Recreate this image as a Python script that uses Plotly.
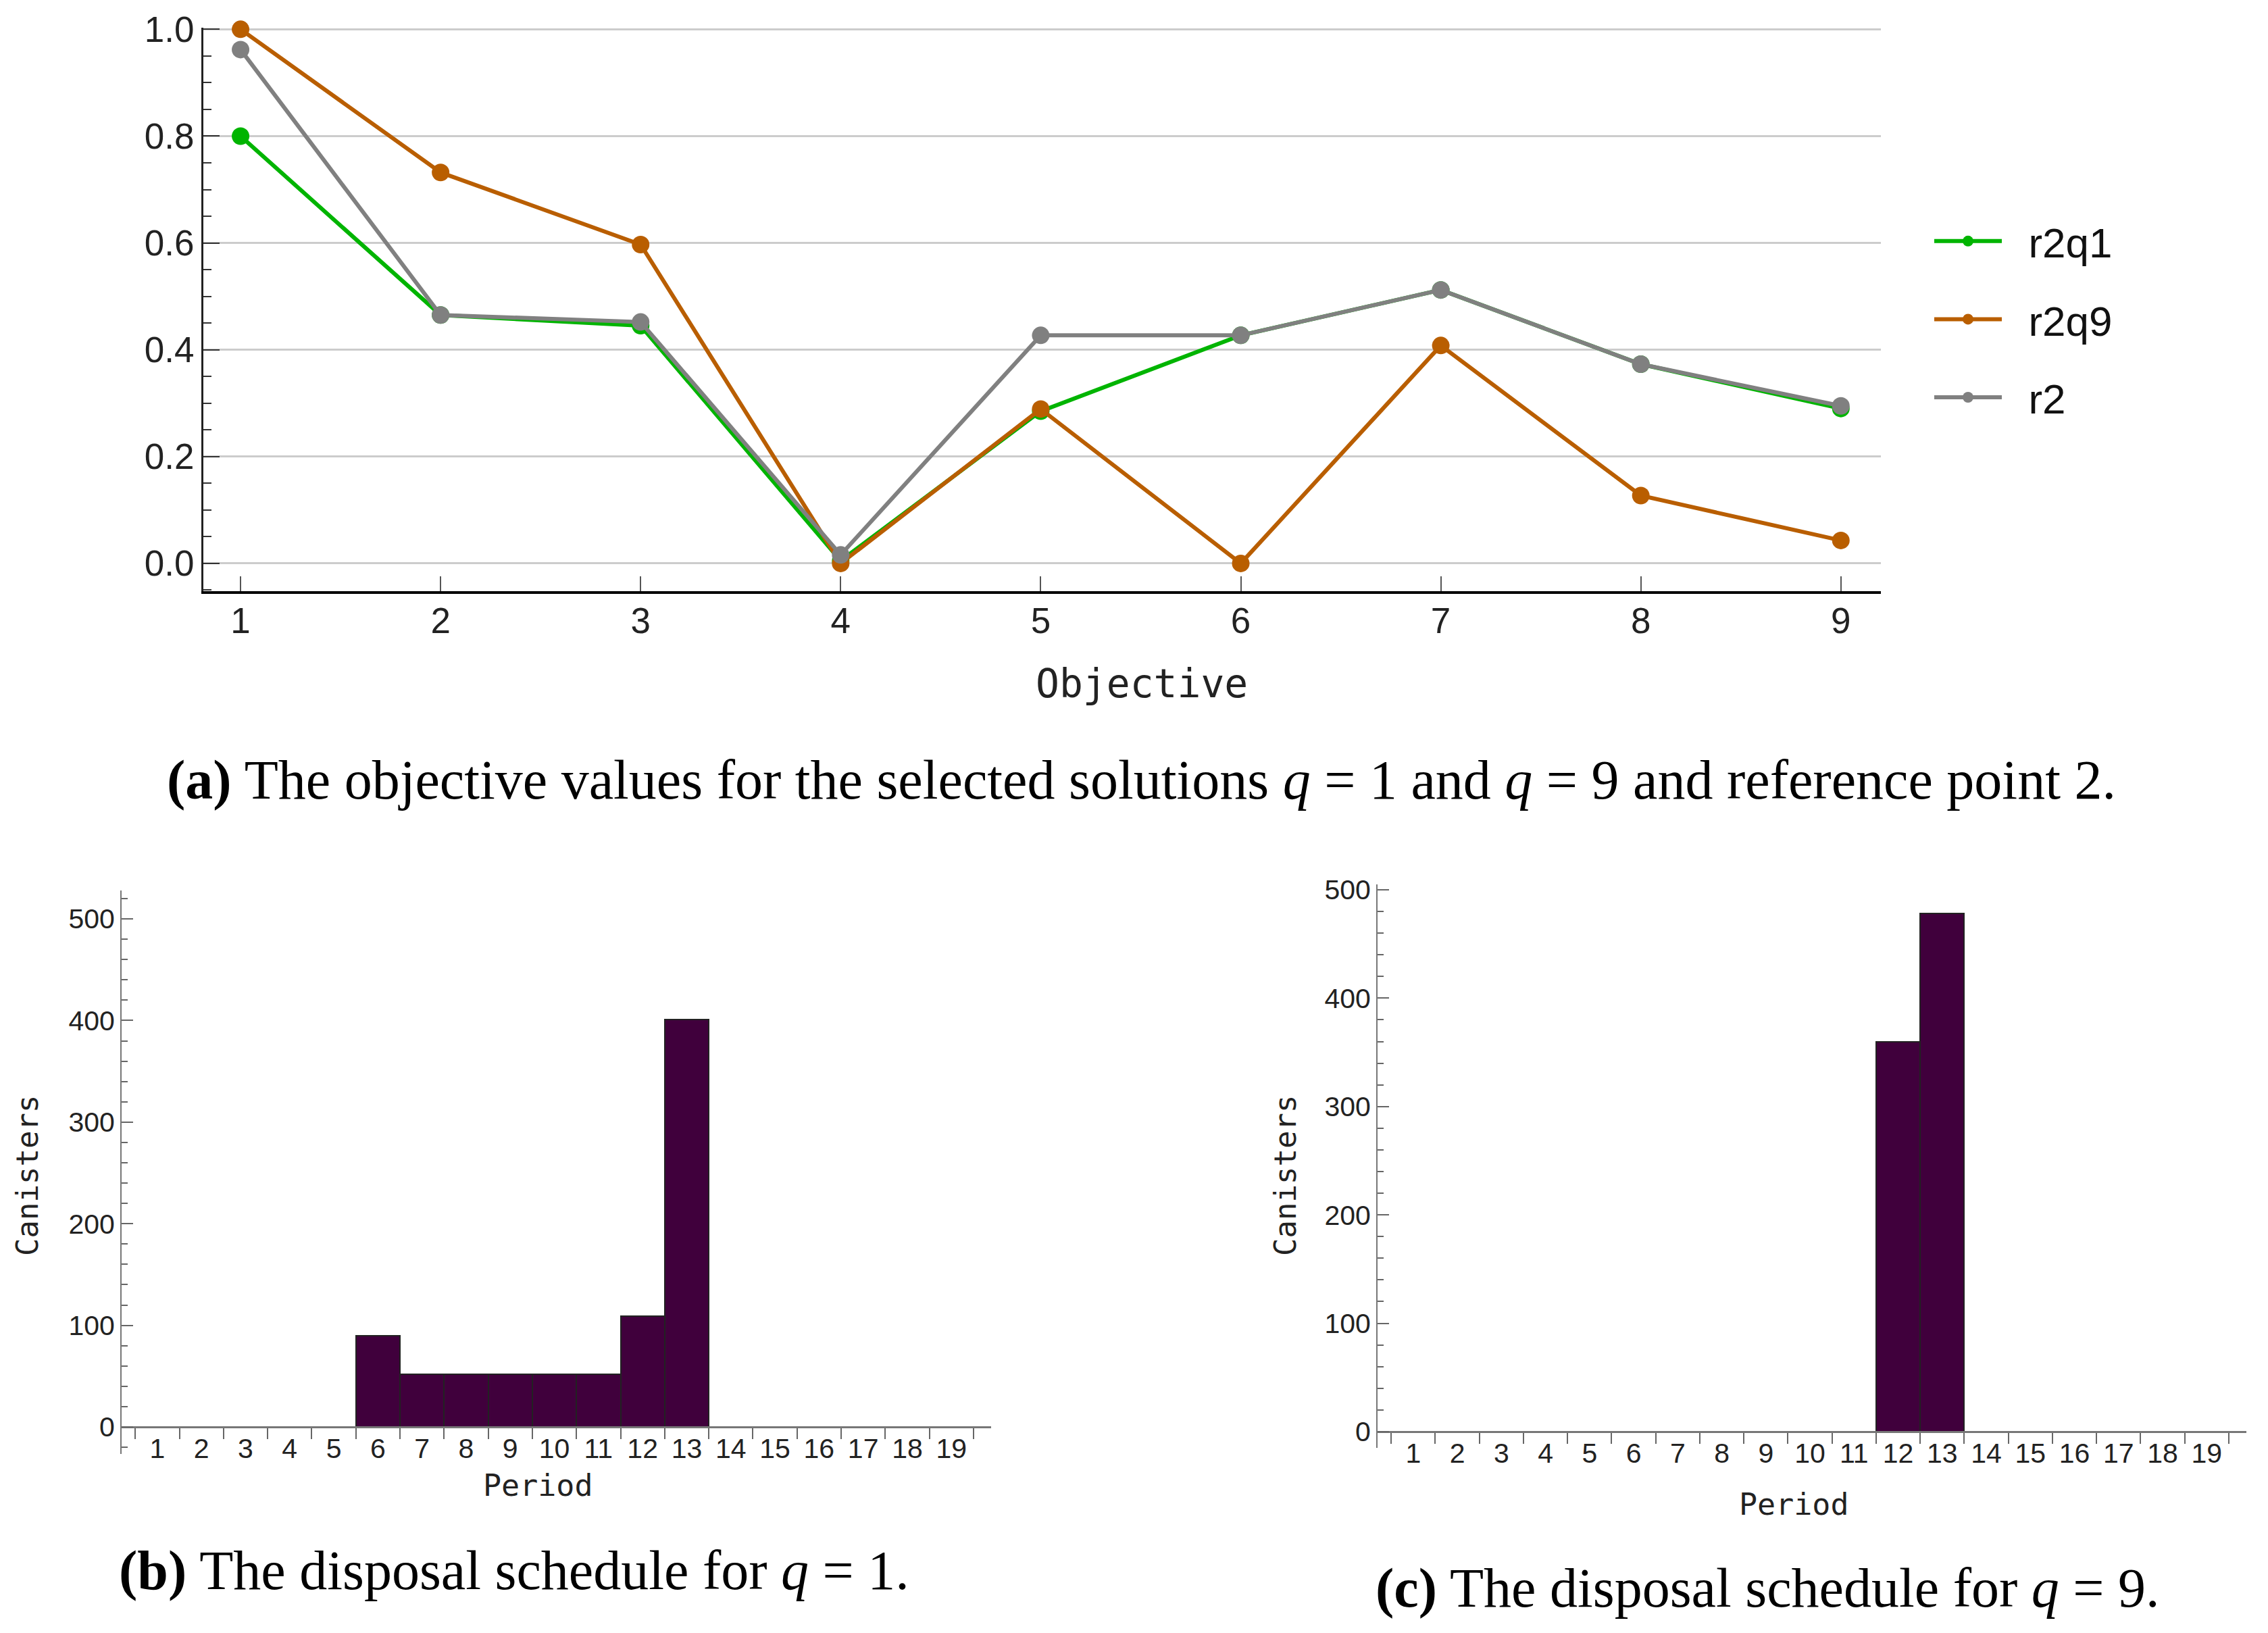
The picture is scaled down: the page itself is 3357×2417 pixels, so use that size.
import plotly.graph_objects as go

W, H = 3357, 2417
PAGE_PAD = 8  # default body margin of the html page

# region Data
objectives = [1, 2, 3, 4, 5, 6, 7, 8, 9]
r2q1 = [0.80, 0.465, 0.445, 0.005, 0.285, 0.427, 0.512, 0.373, 0.29]
r2q9 = [1.0, 0.732, 0.597, 0.0, 0.289, 0.0, 0.408, 0.127, 0.043]
r2 = [0.962, 0.465, 0.452, 0.016, 0.427, 0.427, 0.512, 0.373, 0.295]

periods = list(range(1, 20))
canisters_q1 = [0, 0, 0, 0, 0, 90, 52, 52, 52, 52, 52, 109, 401, 0, 0, 0, 0, 0, 0]
canisters_q9 = [0, 0, 0, 0, 0, 0, 0, 0, 0, 0, 0, 360, 478, 0, 0, 0, 0, 0, 0]
# endregion


def px_x(p):
    return (p - PAGE_PAD) / W


def px_y(p):
    return 1 - (p - PAGE_PAD) / H


tick_font = dict(family="Liberation Sans", color="#222")
mono = "DejaVu Sans Mono"
nb = "\u00a0\u00a0"

fig = go.Figure()

# top: objective values
line_specs = [("r2q1", r2q1, "#00b400"), ("r2q9", r2q9, "#b95e00"), ("r2", r2, "#808080")]
for name, vals, col in line_specs:
    fig.add_trace(go.Scatter(
        x=objectives, y=vals, name=nb + name, mode="lines+markers",
        line=dict(color=col, width=6), marker=dict(color=col, size=26),
        legendgroup=name, cliponaxis=False, xaxis="x", yaxis="y"))

# bottom: disposal schedules
bar_color = "#40003c"
fig.add_trace(go.Bar(x=periods, y=canisters_q1, width=1, marker=dict(color=bar_color, line=dict(color="#222", width=2)),
                     showlegend=False, xaxis="x2", yaxis="y2"))
fig.add_trace(go.Bar(x=periods, y=canisters_q9, width=1, marker=dict(color=bar_color, line=dict(color="#222", width=2)),
                     showlegend=False, xaxis="x3", yaxis="y3"))

# domains (pixels -> paper)
top_dom_y = [px_y(875), px_y(41)]
b_dom_y = [px_y(2152), px_y(1318)]
c_dom_y = [px_y(2143), px_y(1309)]
b_range = [-26.6, 528]
c_range = [-15, 505]


def zero_pos(dom, rng):
    return dom[0] + (0 - rng[0]) / (rng[1] - rng[0]) * (dom[1] - dom[0])


bottom_y = dict(showline=True, linecolor="#777", linewidth=2, ticks="inside", ticklen=17, tickwidth=2,
                tickcolor="#666", dtick=100, tick0=0, showgrid=False, zeroline=False,
                tickfont=dict(size=41, **tick_font),
                minor=dict(ticks="inside", ticklen=9, tickwidth=2, tickcolor="#666", dtick=20, tick0=0))
bottom_x = dict(showline=True, linecolor="#777", linewidth=3, ticks="", tickvals=periods,
                showgrid=False, zeroline=False, tickfont=dict(size=41, **tick_font), range=[0.19, 19.9],
                ticklabelstandoff=-5,
                minor=dict(ticks="outside", ticklen=16, tickwidth=2, tickcolor="#666", tick0=0.5, dtick=1))

fig.update_layout(
    width=W, height=H, margin=dict(l=0, r=0, t=0, b=0, pad=0, autoexpand=False),
    paper_bgcolor="white", plot_bgcolor="white",
    xaxis=dict(domain=[px_x(301), px_x(2784)], range=[0.814, 9.2], tickvals=objectives,
               ticks="inside", ticklen=22, tickwidth=2, tickcolor="#555",
               showline=True, linecolor="black", linewidth=4, showgrid=False, zeroline=False,
               tickfont=dict(size=53, **tick_font), anchor="y", ticklabelstandoff=-6),
    yaxis=dict(domain=top_dom_y, range=[-0.052, 1.003], dtick=0.2, tick0=0, tickformat=".1f",
               ticks="inside", ticklen=24, tickwidth=2, tickcolor="#333",
               showline=True, linecolor="#222", linewidth=3, showgrid=True, gridcolor="#cccccc",
               gridwidth=3, zeroline=False, tickfont=dict(size=53, **tick_font), anchor="x",
               minor=dict(ticks="inside", ticklen=12, tickwidth=2, tickcolor="#333", dtick=0.05, tick0=0,
                          showgrid=False)),
    xaxis2=dict(domain=[px_x(180), px_x(1467)], anchor="free", position=zero_pos(b_dom_y, b_range), **bottom_x),
    yaxis2=dict(domain=b_dom_y, range=b_range, anchor="x2", **bottom_y),
    xaxis3=dict(domain=[px_x(2039), px_x(3325)], anchor="free", position=zero_pos(c_dom_y, c_range), **bottom_x),
    yaxis3=dict(domain=c_dom_y, range=c_range, anchor="x3", **bottom_y),
    legend=dict(x=px_x(2858), y=px_y(310), xanchor="left", yanchor="top", tracegroupgap=32,
                font=dict(family="Liberation Sans", size=62, color="#111"), itemwidth=100),
    bargap=0,
)

cap_font = dict(family="Liberation Serif", size=82, color="black")
annotations = [
    dict(text="Objective", x=px_x(1690), y=px_y(1012), font=dict(family=mono, size=58, color="#222")),
    dict(text="<b>(a)</b> The objective values for the selected solutions <i>q</i> = 1 and <i>q</i> = 9 "
              "and reference point 2.", x=px_x(1690), y=px_y(1154), font=cap_font),
    dict(text="Period", x=px_x(796), y=px_y(2198), font=dict(family=mono, size=45, color="#222")),
    dict(text="Canisters", x=px_x(41), y=px_y(1740), textangle=-90, font=dict(family=mono, size=44, color="#222")),
    dict(text="<b>(b)</b> The disposal schedule for <i>q</i> = 1.", x=px_x(761), y=px_y(2324), font=cap_font),
    dict(text="Period", x=px_x(2655), y=px_y(2226), font=dict(family=mono, size=45, color="#222")),
    dict(text="Canisters", x=px_x(1903), y=px_y(1740), textangle=-90, font=dict(family=mono, size=44, color="#222")),
    dict(text="<b>(c)</b> The disposal schedule for <i>q</i> = 9.", x=px_x(2616), y=px_y(2350), font=cap_font),
]
for a in annotations:
    fig.add_annotation(xref="paper", yref="paper", showarrow=False, xanchor="center", yanchor="middle", **a)

fig.write_html("out.html")
